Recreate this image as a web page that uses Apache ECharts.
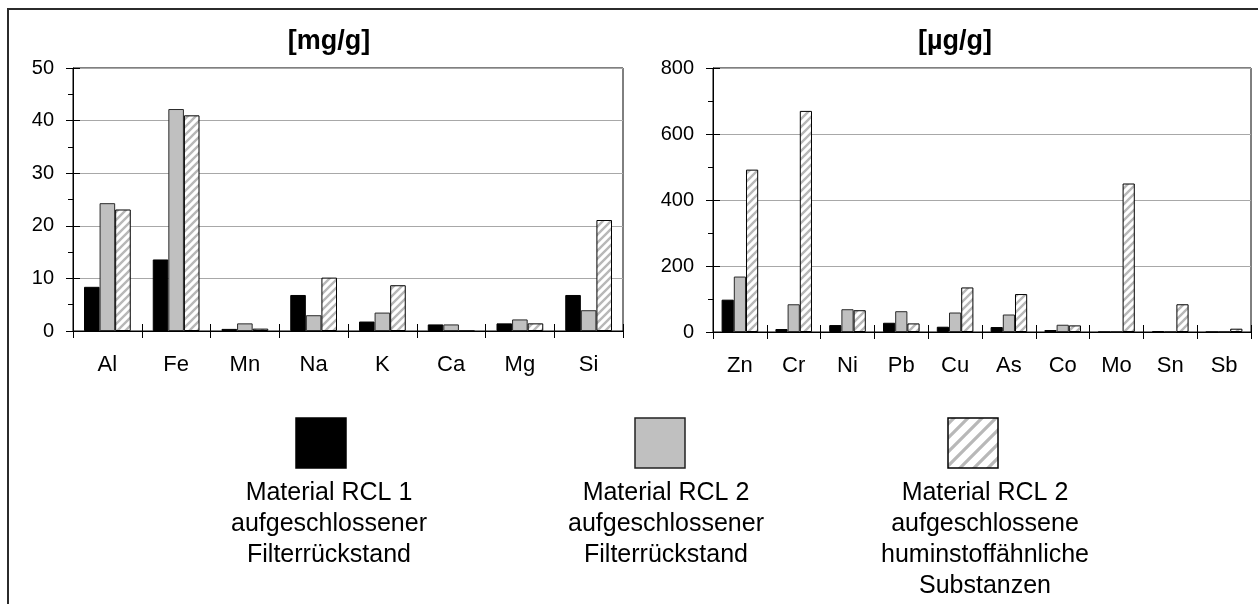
<!DOCTYPE html>
<html>
<head>
<meta charset="utf-8">
<script src="https://cdn.jsdelivr.net/npm/echarts@6/dist/echarts.min.js"></script>
<style>
  html, body { margin: 0; padding: 0; background: #fff; }
  #chart { width: 1258px; height: 604px; }
</style>
</head>
<body>
<div id="chart"></div>
<script>
// Main elements, mg/g
const majorElements = ['Al', 'Fe', 'Mn', 'Na', 'K', 'Ca', 'Mg', 'Si'];
const majorRcl1 = [8.4, 13.6, 0.4, 6.85, 1.8, 1.25, 1.45, 6.85];
const majorRcl2 = [24.3, 42.2, 1.45, 3.0, 3.5, 1.25, 2.2, 3.95];
const majorHumic = [23.1, 41.0, 0.45, 10.15, 8.7, 0, 1.45, 21.1];

// Trace elements, µg/g
const traceElements = ['Zn', 'Cr', 'Ni', 'Pb', 'Cu', 'As', 'Co', 'Mo', 'Sn', 'Sb'];
const traceRcl1 = [98, 9, 21, 28, 16, 15, 6, 0, 3, 0];
const traceRcl2 = [168, 84, 69, 63, 59, 53, 22, 2, 2, 2];
const traceHumic = [492, 670, 66, 26, 135, 115, 20, 450, 84, 10];

// Value axis ranges
const majorAxis = { min: 0, max: 50, interval: 10 };
const traceAxis = { min: 0, max: 800, interval: 200 };

// Panel titles and legend entries
const panelTitles = ['[mg/g]', '[µg/g]'];
const legendLabels = [
  'Material RCL 1\naufgeschlossener\nFilterrückstand',
  'Material RCL 2\naufgeschlossener\nFilterrückstand',
  'Material RCL 2\naufgeschlossene\nhuminstoffähnliche\nSubstanzen'
];

const FONT = '"Liberation Sans", Arial, sans-serif';

// Diagonal hatch tile: light grey "/" stripes on white
function hatchTile(size, lineWidth) {
  const c = document.createElement('canvas');
  c.width = c.height = size;
  const g = c.getContext('2d');
  g.fillStyle = '#ffffff';
  g.fillRect(0, 0, size, size);
  g.strokeStyle = '#b8b8b8';
  g.lineWidth = lineWidth;
  g.beginPath();
  for (let k = -1; k <= 1; k++) {
    g.moveTo(-size + k * size, 2 * size);
    g.lineTo(2 * size + k * size, -size);
  }
  g.stroke();
  return c;
}
const barHatch = { image: hatchTile(8, 2.4), repeat: 'repeat' };
const keyHatch = { image: hatchTile(14, 3.2), repeat: 'repeat' };

const styles = [
  { color: '#000000', borderColor: '#000000', borderWidth: 1 },
  { color: '#c0c0c0', borderColor: '#2a2a2a', borderWidth: 1 },
  { color: barHatch, borderColor: '#000000', borderWidth: 1 }
];

function categoryAxes(gridIndex, data) {
  return [
    {
      gridIndex, type: 'category', data, position: 'bottom',
      axisLine: { show: true, lineStyle: { color: '#000', width: 1 } },
      axisTick: { show: true, length: 7, lineStyle: { color: '#000' } },
      axisLabel: { fontSize: 22, color: '#000', margin: 23, fontFamily: FONT },
      splitLine: { show: false }
    },
    {
      gridIndex, type: 'category', data, position: 'bottom',
      axisLine: { show: false },
      axisTick: { show: true, inside: true, length: 7, lineStyle: { color: '#000' } },
      axisLabel: { show: false },
      splitLine: { show: false }
    }
  ];
}

function valueAxes(gridIndex, range) {
  return [
    {
      gridIndex, type: 'value', position: 'left',
      min: range.min, max: range.max, interval: range.interval,
      axisLine: { show: true, lineStyle: { color: '#000', width: 1 } },
      axisTick: { show: true, length: 7, lineStyle: { color: '#000' } },
      minorTick: { show: true, splitNumber: 2, length: 5, lineStyle: { color: '#000' } },
      axisLabel: { fontSize: 20, color: '#000', margin: 19, fontFamily: FONT },
      splitLine: { show: true, lineStyle: { color: '#a8a8a8', width: 1 } }
    },
    {
      gridIndex, type: 'value', position: 'left',
      min: range.min, max: range.max, interval: range.interval,
      axisLine: { show: false },
      axisTick: { show: true, inside: true, length: 7, lineStyle: { color: '#000' } },
      axisLabel: { show: false },
      splitLine: { show: false }
    }
  ];
}

function bars(axisIndex, seriesData) {
  return seriesData.map((data, i) => ({
    type: 'bar',
    name: legendLabels[i],
    xAxisIndex: axisIndex,
    yAxisIndex: axisIndex,
    data,
    barGap: '0%',
    barCategoryGap: '32%',
    itemStyle: styles[i],
    emphasis: { disabled: true }
  }));
}

// Legend keys and captions drawn as graphics below the panels
const keyBoxes = [
  { x: 296, fill: '#000000', stroke: '#000000', textX: 329 },
  { x: 635, fill: '#c0c0c0', stroke: '#222222', textX: 666 },
  { x: 948, fill: keyHatch, stroke: '#000000', textX: 985 }
];
const legendGraphics = [];
keyBoxes.forEach((k, i) => {
  legendGraphics.push({
    type: 'rect',
    shape: { x: k.x, y: 418, width: 50, height: 50 },
    style: { fill: k.fill, stroke: k.stroke, lineWidth: 1.5 }
  });
  legendGraphics.push({
    type: 'text',
    x: k.textX, y: 478,
    style: {
      text: legendLabels[i], fill: '#000', font: '25px ' + FONT,
      textAlign: 'center', textVerticalAlign: 'top', lineHeight: 31
    }
  });
});

const option = {
  animation: false,
  backgroundColor: '#ffffff',
  textStyle: { fontFamily: FONT },
  grid: [
    { left: 73, top: 68, width: 550, height: 263, show: true, borderColor: '#000', borderWidth: 1, backgroundColor: 'transparent' },
    { left: 713, top: 68, width: 538, height: 264, show: true, borderColor: '#000', borderWidth: 1, backgroundColor: 'transparent' }
  ],
  xAxis: [...categoryAxes(0, majorElements), ...categoryAxes(1, traceElements)],
  yAxis: [...valueAxes(0, majorAxis), ...valueAxes(1, traceAxis)],
  series: [
    ...bars(0, [majorRcl1, majorRcl2, majorHumic]),
    ...bars(2, [traceRcl1, traceRcl2, traceHumic])
  ],
  graphic: [
    {
      type: 'rect', silent: true,
      shape: { x: 8, y: 9, width: 1300, height: 700 },
      style: { fill: 'none', stroke: '#2b2b2b', lineWidth: 2 }
    },
    {
      type: 'text', x: 329, y: 42,
      style: { text: panelTitles[0], fill: '#000', font: 'bold 27px ' + FONT, textAlign: 'center', textVerticalAlign: 'middle' }
    },
    {
      type: 'text', x: 955, y: 42,
      style: { text: panelTitles[1], fill: '#000', font: 'bold 27px ' + FONT, textAlign: 'center', textVerticalAlign: 'middle' }
    },
    ...legendGraphics
  ]
};

const chart = echarts.init(document.getElementById('chart'), null, { renderer: 'canvas' });
chart.setOption(option);
</script>
</body>
</html>
